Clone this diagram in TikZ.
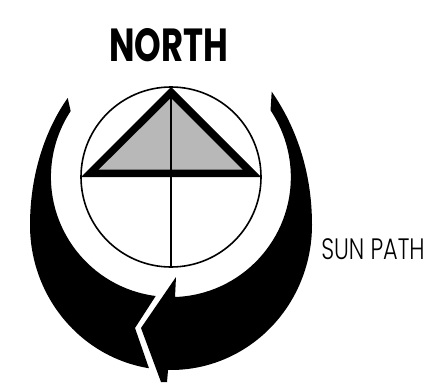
\documentclass[tikz,border=0pt]{standalone}
\usepackage{fontspec}
\newfontfamily\northfont{Poppins}[FakeStretch=0.73]
\newfontfamily\pathfont{Poppins Light}[FakeStretch=0.76]
\definecolor{figgrey}{RGB}{184,184,184}

\begin{document}
\begin{tikzpicture}[x=0.025cm,y=-0.025cm]
  \useasboundingbox (0,0) rectangle (446,382);
  % left horn of the path
  \fill (67.7,98) .. controls (45,130) and (30,175) .. (30,225)
    arc[start angle=180,end angle=99,x radius=141,y radius=145]
    -- (135,328) -- (155.7,296) arc[start angle=97.3,end angle=213.3,radius=120] -- cycle;
  % right horn and arrow head
  \fill (176,277) -- (175,297) arc[start angle=88,end angle=-33.8,radius=120] -- (271.7,91.7)
    .. controls (295,125) and (312,170) .. (312,225)
    arc[start angle=0,end angle=91.2,x radius=141,y radius=145]
    -- (167,382) -- (161,382) -- (141,328) -- cycle;
  % compass
  \draw[line width=0.04cm] (171,177) circle (90);
  \fill (171,87) -- (261,177) -- (81,177) -- cycle;
  \fill[figgrey] (171,98) -- (242.7,169.7) -- (98.7,169.7) -- cycle;
  \draw[line width=0.04cm] (171,87) -- (171,267);
  \node[font=\northfont\bfseries\fontsize{33}{33}\selectfont] (north) at (168.5,45) {NORTH};
  \node[font=\pathfont\fontsize{21}{21}\selectfont] (sunpath) at (373,249.5) {SUN PATH};
\end{tikzpicture}
\end{document}
